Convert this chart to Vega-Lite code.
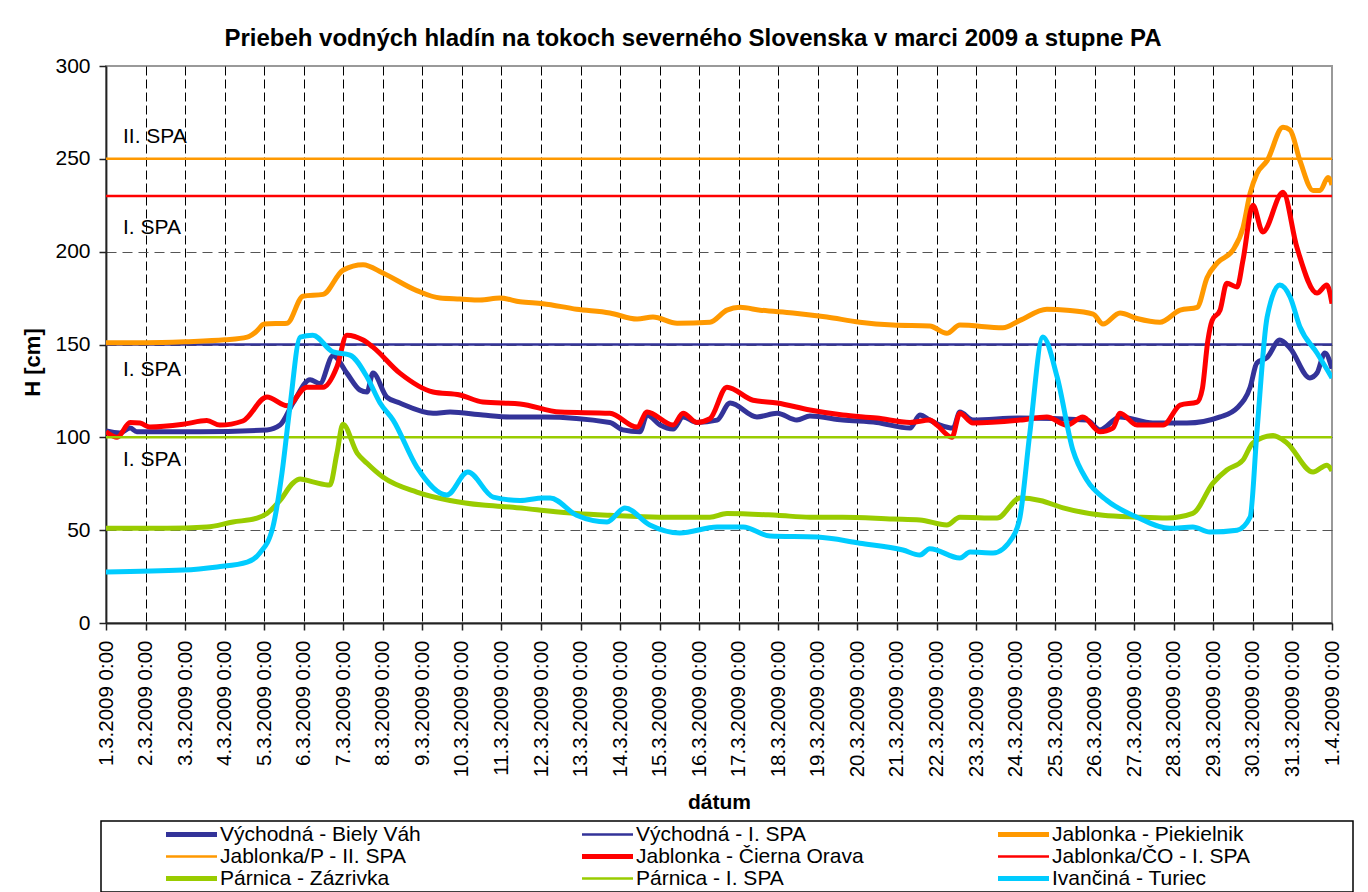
{
  "$schema": "https://vega.github.io/schema/vega-lite/v6.json",
  "width": 1226,
  "height": 557,
  "autosize": {"type": "none"},
  "padding": {"left": 106, "top": 66, "right": 36, "bottom": 269},
  "background": "white",
  "config": {
    "font": "Liberation Sans",
    "view": {"stroke": "#999999", "strokeWidth": 2}
  },
  "title": {
    "text": "Priebeh vodných hladín na tokoch severného Slovenska v marci 2009 a stupne PA",
    "fontSize": 24, "font": "Liberation Sans", "fontWeight": "bold", "color": "#000000",
    "anchor": "middle", "dx": -26, "offset": 4
  },
  "encoding": {
    "x": {
      "field": "den", "type": "quantitative",
      "scale": {"domain": [0, 31], "nice": false, "zero": false},
      "axis": {
        "title": "dátum", "titleFontSize": 21, "titleFontWeight": "bold", "titleColor": "#000",
        "titleY": 185, "titleBaseline": "alphabetic",
        "values": [0,1,2,3,4,5,6,7,8,9,10,11,12,13,14,15,16,17,18,19,20,21,22,23,24,25,26,27,28,29,30,31],
        "labelExpr": "datum.value < 31 ? (datum.value + 1) + '.3.2009 0:00' : '1.4.2009 0:00'",
        "labelAngle": -90, "labelAlign": "right", "labelBaseline": "middle",
        "labelFontSize": 20.5, "labelColor": "#000", "labelPadding": 10, "labelOverlap": false, "labelFlush": false,
        "tickSize": 7, "tickColor": "#222", "tickWidth": 1.5,
        "domainColor": "#222", "domainWidth": 1.8,
        "grid": true, "gridColor": "#000", "gridDash": [9, 4], "gridWidth": 1,
        "gridOpacity": {"condition": {"test": "datum.value == 31 || datum.value == 0", "value": 0}, "value": 1}
      }
    },
    "y": {
      "field": "H", "type": "quantitative",
      "scale": {"domain": [0, 300], "nice": false},
      "axis": {
        "title": "H [cm]", "titleFontSize": 22, "titleFontWeight": "bold", "titleColor": "#000",
        "titleAngle": 270, "titleAlign": "center", "titleBaseline": "middle", "titleX": -74, "titleY": 296,
        "values": [0, 50, 100, 150, 200, 250, 300],
        "labelFontSize": 21, "labelColor": "#000", "labelPadding": 9,
        "tickSize": 7, "tickColor": "#222", "tickWidth": 1.5,
        "domainColor": "#222", "domainWidth": 1.8,
        "grid": true, "gridColor": "#555555", "gridDash": [10, 6], "gridWidth": 1.2,
        "gridOpacity": {"condition": {"test": "datum.value == 300 || datum.value == 0", "value": 0}, "value": 1}
      }
    }
  },
  "layer": [
    {
      "data": {"name": "popisy", "values": [
        {"den": 0.43, "H": 258.3, "txt": "II. SPA"},
        {"den": 0.43, "H": 209.3, "txt": "I. SPA"},
        {"den": 0.43, "H": 133.0, "txt": "I. SPA"},
        {"den": 0.43, "H": 84.7, "txt": "I. SPA"}
      ]},
      "mark": {"type": "text", "align": "left", "baseline": "alphabetic", "fontSize": 21, "color": "#000"},
      "encoding": {"text": {"field": "txt"}}
    },
    {
      "data": {"values": [
        {"rad": "Východná - Biely Váh", "den": 0, "H": 103.4},
        {"rad": "Východná - Biely Váh", "den": 0.35, "H": 102.3},
        {"rad": "Východná - Biely Váh", "den": 0.61, "H": 105},
        {"rad": "Východná - Biely Váh", "den": 0.78, "H": 103},
        {"rad": "Východná - Biely Váh", "den": 2.38, "H": 103},
        {"rad": "Východná - Biely Váh", "den": 4.07, "H": 104},
        {"rad": "Východná - Biely Váh", "den": 4.4, "H": 106.6},
        {"rad": "Východná - Biely Váh", "den": 4.73, "H": 118.5},
        {"rad": "Východná - Biely Váh", "den": 5.16, "H": 131},
        {"rad": "Východná - Biely Váh", "den": 5.41, "H": 129},
        {"rad": "Východná - Biely Váh", "den": 5.74, "H": 144},
        {"rad": "Východná - Biely Váh", "den": 6.09, "H": 134.6},
        {"rad": "Východná - Biely Váh", "den": 6.42, "H": 125.5},
        {"rad": "Východná - Biely Váh", "den": 6.6, "H": 124.4},
        {"rad": "Východná - Biely Váh", "den": 6.75, "H": 134.6},
        {"rad": "Východná - Biely Váh", "den": 7.1, "H": 121.7},
        {"rad": "Východná - Biely Váh", "den": 7.43, "H": 118.5},
        {"rad": "Východná - Biely Váh", "den": 8.27, "H": 113},
        {"rad": "Východná - Biely Váh", "den": 8.7, "H": 113.6},
        {"rad": "Východná - Biely Váh", "den": 9.53, "H": 112},
        {"rad": "Východná - Biely Váh", "den": 10.21, "H": 111},
        {"rad": "Východná - Biely Váh", "den": 11.05, "H": 111},
        {"rad": "Východná - Biely Váh", "den": 12.74, "H": 108},
        {"rad": "Východná - Biely Váh", "den": 13.07, "H": 104},
        {"rad": "Východná - Biely Váh", "den": 13.5, "H": 103},
        {"rad": "Východná - Biely Váh", "den": 13.68, "H": 112},
        {"rad": "Východná - Biely Váh", "den": 14.01, "H": 106.6},
        {"rad": "Východná - Biely Váh", "den": 14.34, "H": 104.5},
        {"rad": "Východná - Biely Váh", "den": 14.59, "H": 111},
        {"rad": "Východná - Biely Váh", "den": 14.94, "H": 108},
        {"rad": "Východná - Biely Váh", "den": 15.45, "H": 109.3},
        {"rad": "Východná - Biely Váh", "den": 15.78, "H": 118.5},
        {"rad": "Východná - Biely Váh", "den": 16.46, "H": 111},
        {"rad": "Východná - Biely Váh", "den": 16.97, "H": 113},
        {"rad": "Východná - Biely Váh", "den": 17.47, "H": 109.3},
        {"rad": "Východná - Biely Váh", "den": 17.8, "H": 111.5},
        {"rad": "Východná - Biely Váh", "den": 18.63, "H": 109.3},
        {"rad": "Východná - Biely Váh", "den": 19.49, "H": 108},
        {"rad": "Východná - Biely Váh", "den": 20.33, "H": 105},
        {"rad": "Východná - Biely Váh", "den": 20.58, "H": 112},
        {"rad": "Východná - Biely Váh", "den": 20.83, "H": 109.3},
        {"rad": "Východná - Biely Váh", "den": 21.09, "H": 106.6},
        {"rad": "Východná - Biely Váh", "den": 21.42, "H": 105},
        {"rad": "Východná - Biely Váh", "den": 21.59, "H": 113.6},
        {"rad": "Východná - Biely Váh", "den": 21.92, "H": 109.3},
        {"rad": "Východná - Biely Váh", "den": 23.11, "H": 110.4},
        {"rad": "Východná - Biely Váh", "den": 24.8, "H": 109.3},
        {"rad": "Východná - Biely Váh", "den": 25.13, "H": 104},
        {"rad": "Východná - Biely Váh", "den": 25.64, "H": 111},
        {"rad": "Východná - Biely Váh", "den": 26.47, "H": 107.7},
        {"rad": "Východná - Biely Váh", "den": 27.33, "H": 107.7},
        {"rad": "Východná - Biely Váh", "den": 28.17, "H": 111},
        {"rad": "Východná - Biely Váh", "den": 28.6, "H": 115.8},
        {"rad": "Východná - Biely Váh", "den": 28.93, "H": 127},
        {"rad": "Východná - Biely Váh", "den": 29.1, "H": 140},
        {"rad": "Východná - Biely Váh", "den": 29.36, "H": 143},
        {"rad": "Východná - Biely Váh", "den": 29.68, "H": 152.4},
        {"rad": "Východná - Biely Váh", "den": 29.94, "H": 148},
        {"rad": "Východná - Biely Váh", "den": 30.44, "H": 132},
        {"rad": "Východná - Biely Váh", "den": 30.62, "H": 134.6},
        {"rad": "Východná - Biely Váh", "den": 30.82, "H": 145.4},
        {"rad": "Východná - Biely Váh", "den": 31, "H": 137},

        {"rad": "Východná - I. SPA", "den": 0, "H": 150},
        {"rad": "Východná - I. SPA", "den": 31, "H": 150},

        {"rad": "Jablonka - Piekielnik", "den": 0, "H": 151},
        {"rad": "Jablonka - Piekielnik", "den": 1, "H": 151},
        {"rad": "Jablonka - Piekielnik", "den": 2, "H": 151.5},
        {"rad": "Jablonka - Piekielnik", "den": 3, "H": 152.5},
        {"rad": "Jablonka - Piekielnik", "den": 3.57, "H": 154},
        {"rad": "Jablonka - Piekielnik", "den": 3.8, "H": 157},
        {"rad": "Jablonka - Piekielnik", "den": 4.0, "H": 161},
        {"rad": "Jablonka - Piekielnik", "den": 4.58, "H": 161.5},
        {"rad": "Jablonka - Piekielnik", "den": 4.98, "H": 176},
        {"rad": "Jablonka - Piekielnik", "den": 5.49, "H": 177},
        {"rad": "Jablonka - Piekielnik", "den": 5.99, "H": 190},
        {"rad": "Jablonka - Piekielnik", "den": 6.5, "H": 193},
        {"rad": "Jablonka - Piekielnik", "den": 7.0, "H": 188.5},
        {"rad": "Jablonka - Piekielnik", "den": 7.86, "H": 179},
        {"rad": "Jablonka - Piekielnik", "den": 8.45, "H": 175},
        {"rad": "Jablonka - Piekielnik", "den": 8.95, "H": 174.5},
        {"rad": "Jablonka - Piekielnik", "den": 9.46, "H": 174},
        {"rad": "Jablonka - Piekielnik", "den": 9.96, "H": 175},
        {"rad": "Jablonka - Piekielnik", "den": 10.47, "H": 173},
        {"rad": "Jablonka - Piekielnik", "den": 11.05, "H": 172},
        {"rad": "Jablonka - Piekielnik", "den": 11.9, "H": 169},
        {"rad": "Jablonka - Piekielnik", "den": 12.74, "H": 167},
        {"rad": "Jablonka - Piekielnik", "den": 13.43, "H": 163.7},
        {"rad": "Jablonka - Piekielnik", "den": 13.83, "H": 164.8},
        {"rad": "Jablonka - Piekielnik", "den": 14.44, "H": 161.5},
        {"rad": "Jablonka - Piekielnik", "den": 15.27, "H": 162},
        {"rad": "Jablonka - Piekielnik", "den": 15.7, "H": 168.5},
        {"rad": "Jablonka - Piekielnik", "den": 16.03, "H": 170},
        {"rad": "Jablonka - Piekielnik", "den": 16.54, "H": 168.5},
        {"rad": "Jablonka - Piekielnik", "den": 17.37, "H": 167},
        {"rad": "Jablonka - Piekielnik", "den": 18.23, "H": 164.8},
        {"rad": "Jablonka - Piekielnik", "den": 19.06, "H": 162},
        {"rad": "Jablonka - Piekielnik", "den": 19.9, "H": 160.5},
        {"rad": "Jablonka - Piekielnik", "den": 20.83, "H": 160},
        {"rad": "Jablonka - Piekielnik", "den": 21.26, "H": 156},
        {"rad": "Jablonka - Piekielnik", "den": 21.59, "H": 160.5},
        {"rad": "Jablonka - Piekielnik", "den": 22.68, "H": 159},
        {"rad": "Jablonka - Piekielnik", "den": 23.11, "H": 163},
        {"rad": "Jablonka - Piekielnik", "den": 23.79, "H": 169},
        {"rad": "Jablonka - Piekielnik", "den": 24.3, "H": 168.5},
        {"rad": "Jablonka - Piekielnik", "den": 24.96, "H": 166.4},
        {"rad": "Jablonka - Piekielnik", "den": 25.21, "H": 161},
        {"rad": "Jablonka - Piekielnik", "den": 25.64, "H": 167},
        {"rad": "Jablonka - Piekielnik", "den": 26.07, "H": 164},
        {"rad": "Jablonka - Piekielnik", "den": 26.65, "H": 162},
        {"rad": "Jablonka - Piekielnik", "den": 27.16, "H": 168.5},
        {"rad": "Jablonka - Piekielnik", "den": 27.59, "H": 170},
        {"rad": "Jablonka - Piekielnik", "den": 27.84, "H": 186},
        {"rad": "Jablonka - Piekielnik", "den": 28.1, "H": 194},
        {"rad": "Jablonka - Piekielnik", "den": 28.5, "H": 201},
        {"rad": "Jablonka - Piekielnik", "den": 28.75, "H": 213},
        {"rad": "Jablonka - Piekielnik", "den": 28.93, "H": 231.5},
        {"rad": "Jablonka - Piekielnik", "den": 29.1, "H": 242},
        {"rad": "Jablonka - Piekielnik", "den": 29.36, "H": 249},
        {"rad": "Jablonka - Piekielnik", "den": 29.76, "H": 267},
        {"rad": "Jablonka - Piekielnik", "den": 29.94, "H": 265.5},
        {"rad": "Jablonka - Piekielnik", "den": 30.19, "H": 249},
        {"rad": "Jablonka - Piekielnik", "den": 30.52, "H": 233},
        {"rad": "Jablonka - Piekielnik", "den": 30.7, "H": 233},
        {"rad": "Jablonka - Piekielnik", "den": 30.9, "H": 240},
        {"rad": "Jablonka - Piekielnik", "den": 31, "H": 236},

        {"rad": "Jablonka/P - II. SPA", "den": 0, "H": 250},
        {"rad": "Jablonka/P - II. SPA", "den": 31, "H": 250},

        {"rad": "Jablonka - Čierna Orava", "den": 0, "H": 103},
        {"rad": "Jablonka - Čierna Orava", "den": 0.28, "H": 100},
        {"rad": "Jablonka - Čierna Orava", "den": 0.61, "H": 108},
        {"rad": "Jablonka - Čierna Orava", "den": 0.86, "H": 107.7},
        {"rad": "Jablonka - Čierna Orava", "den": 1.11, "H": 105.5},
        {"rad": "Jablonka - Čierna Orava", "den": 1.95, "H": 107},
        {"rad": "Jablonka - Čierna Orava", "den": 2.55, "H": 109},
        {"rad": "Jablonka - Čierna Orava", "den": 2.88, "H": 106.6},
        {"rad": "Jablonka - Čierna Orava", "den": 3.46, "H": 108.8},
        {"rad": "Jablonka - Čierna Orava", "den": 4.07, "H": 121.7},
        {"rad": "Jablonka - Čierna Orava", "den": 4.58, "H": 117},
        {"rad": "Jablonka - Čierna Orava", "den": 5.08, "H": 127},
        {"rad": "Jablonka - Čierna Orava", "den": 5.49, "H": 127},
        {"rad": "Jablonka - Čierna Orava", "den": 5.84, "H": 138},
        {"rad": "Jablonka - Čierna Orava", "den": 6.09, "H": 155},
        {"rad": "Jablonka - Čierna Orava", "den": 6.5, "H": 152.4},
        {"rad": "Jablonka - Čierna Orava", "den": 6.75, "H": 148.6},
        {"rad": "Jablonka - Čierna Orava", "den": 7.43, "H": 134.6},
        {"rad": "Jablonka - Čierna Orava", "den": 8.27, "H": 124.4},
        {"rad": "Jablonka - Čierna Orava", "den": 8.95, "H": 122.8},
        {"rad": "Jablonka - Čierna Orava", "den": 9.53, "H": 119},
        {"rad": "Jablonka - Čierna Orava", "den": 10.47, "H": 118},
        {"rad": "Jablonka - Čierna Orava", "den": 11.48, "H": 113.6},
        {"rad": "Jablonka - Čierna Orava", "den": 12.74, "H": 113},
        {"rad": "Jablonka - Čierna Orava", "den": 13.43, "H": 105.5},
        {"rad": "Jablonka - Čierna Orava", "den": 13.68, "H": 113.6},
        {"rad": "Jablonka - Čierna Orava", "den": 14.34, "H": 106.6},
        {"rad": "Jablonka - Čierna Orava", "den": 14.59, "H": 113},
        {"rad": "Jablonka - Čierna Orava", "den": 14.94, "H": 108},
        {"rad": "Jablonka - Čierna Orava", "den": 15.27, "H": 110},
        {"rad": "Jablonka - Čierna Orava", "den": 15.7, "H": 127},
        {"rad": "Jablonka - Čierna Orava", "den": 16.36, "H": 120},
        {"rad": "Jablonka - Čierna Orava", "den": 16.97, "H": 118.5},
        {"rad": "Jablonka - Čierna Orava", "den": 17.8, "H": 114.7},
        {"rad": "Jablonka - Čierna Orava", "den": 18.63, "H": 112},
        {"rad": "Jablonka - Čierna Orava", "den": 19.49, "H": 110.4},
        {"rad": "Jablonka - Čierna Orava", "den": 20.33, "H": 108},
        {"rad": "Jablonka - Čierna Orava", "den": 20.83, "H": 109.3},
        {"rad": "Jablonka - Čierna Orava", "den": 21.01, "H": 106.6},
        {"rad": "Jablonka - Čierna Orava", "den": 21.39, "H": 100},
        {"rad": "Jablonka - Čierna Orava", "den": 21.59, "H": 113},
        {"rad": "Jablonka - Čierna Orava", "den": 21.92, "H": 107.7},
        {"rad": "Jablonka - Čierna Orava", "den": 23.11, "H": 109.3},
        {"rad": "Jablonka - Čierna Orava", "den": 23.79, "H": 111},
        {"rad": "Jablonka - Čierna Orava", "den": 24.3, "H": 106.6},
        {"rad": "Jablonka - Čierna Orava", "den": 24.7, "H": 111},
        {"rad": "Jablonka - Čierna Orava", "den": 25.13, "H": 103},
        {"rad": "Jablonka - Čierna Orava", "den": 25.46, "H": 105},
        {"rad": "Jablonka - Čierna Orava", "den": 25.64, "H": 113},
        {"rad": "Jablonka - Čierna Orava", "den": 26.07, "H": 106.6},
        {"rad": "Jablonka - Čierna Orava", "den": 26.73, "H": 106.6},
        {"rad": "Jablonka - Čierna Orava", "den": 27.16, "H": 117.4},
        {"rad": "Jablonka - Čierna Orava", "den": 27.59, "H": 119},
        {"rad": "Jablonka - Čierna Orava", "den": 27.72, "H": 126},
        {"rad": "Jablonka - Čierna Orava", "den": 27.86, "H": 152},
        {"rad": "Jablonka - Čierna Orava", "den": 27.97, "H": 163},
        {"rad": "Jablonka - Čierna Orava", "den": 28.17, "H": 168.5},
        {"rad": "Jablonka - Čierna Orava", "den": 28.34, "H": 183},
        {"rad": "Jablonka - Čierna Orava", "den": 28.6, "H": 181},
        {"rad": "Jablonka - Čierna Orava", "den": 28.75, "H": 195.5},
        {"rad": "Jablonka - Čierna Orava", "den": 29.0, "H": 225},
        {"rad": "Jablonka - Čierna Orava", "den": 29.25, "H": 210.6},
        {"rad": "Jablonka - Čierna Orava", "den": 29.76, "H": 232},
        {"rad": "Jablonka - Čierna Orava", "den": 30.11, "H": 202.5},
        {"rad": "Jablonka - Čierna Orava", "den": 30.62, "H": 177.7},
        {"rad": "Jablonka - Čierna Orava", "den": 30.87, "H": 182},
        {"rad": "Jablonka - Čierna Orava", "den": 31, "H": 172},

        {"rad": "Jablonka/ČO - I. SPA", "den": 0, "H": 230},
        {"rad": "Jablonka/ČO - I. SPA", "den": 31, "H": 230},

        {"rad": "Párnica - Zázrivka", "den": 0, "H": 51},
        {"rad": "Párnica - Zázrivka", "den": 1.54, "H": 51},
        {"rad": "Párnica - Zázrivka", "den": 2.55, "H": 51.7},
        {"rad": "Párnica - Zázrivka", "den": 3.21, "H": 54.4},
        {"rad": "Párnica - Zázrivka", "den": 3.82, "H": 56.5},
        {"rad": "Párnica - Zázrivka", "den": 4.07, "H": 59},
        {"rad": "Párnica - Zázrivka", "den": 4.4, "H": 66},
        {"rad": "Párnica - Zázrivka", "den": 4.73, "H": 75.4},
        {"rad": "Párnica - Zázrivka", "den": 4.91, "H": 77.5},
        {"rad": "Párnica - Zázrivka", "den": 5.23, "H": 76},
        {"rad": "Párnica - Zázrivka", "den": 5.66, "H": 74.3},
        {"rad": "Párnica - Zázrivka", "den": 5.84, "H": 91.5},
        {"rad": "Párnica - Zázrivka", "den": 5.99, "H": 107},
        {"rad": "Párnica - Zázrivka", "den": 6.35, "H": 91.5},
        {"rad": "Párnica - Zázrivka", "den": 6.6, "H": 86},
        {"rad": "Párnica - Zázrivka", "den": 7.0, "H": 78.6},
        {"rad": "Párnica - Zázrivka", "den": 7.86, "H": 70.5},
        {"rad": "Párnica - Zázrivka", "den": 8.7, "H": 66},
        {"rad": "Párnica - Zázrivka", "den": 9.53, "H": 63.5},
        {"rad": "Párnica - Zázrivka", "den": 10.21, "H": 62.5},
        {"rad": "Párnica - Zázrivka", "den": 10.9, "H": 61},
        {"rad": "Párnica - Zázrivka", "den": 11.9, "H": 59},
        {"rad": "Párnica - Zázrivka", "den": 12.74, "H": 58},
        {"rad": "Párnica - Zázrivka", "den": 14.01, "H": 57},
        {"rad": "Párnica - Zázrivka", "den": 15.27, "H": 57},
        {"rad": "Párnica - Zázrivka", "den": 15.7, "H": 59},
        {"rad": "Párnica - Zázrivka", "den": 16.97, "H": 58},
        {"rad": "Párnica - Zázrivka", "den": 17.8, "H": 57},
        {"rad": "Párnica - Zázrivka", "den": 18.63, "H": 57},
        {"rad": "Párnica - Zázrivka", "den": 19.9, "H": 56},
        {"rad": "Párnica - Zázrivka", "den": 20.58, "H": 55.5},
        {"rad": "Párnica - Zázrivka", "den": 21.26, "H": 52.8},
        {"rad": "Párnica - Zázrivka", "den": 21.59, "H": 57},
        {"rad": "Párnica - Zázrivka", "den": 22.53, "H": 56.5},
        {"rad": "Párnica - Zázrivka", "den": 23.11, "H": 67.3},
        {"rad": "Párnica - Zázrivka", "den": 23.62, "H": 66},
        {"rad": "Párnica - Zázrivka", "den": 24.2, "H": 62},
        {"rad": "Párnica - Zázrivka", "den": 25.21, "H": 58},
        {"rad": "Párnica - Zázrivka", "den": 26.07, "H": 57},
        {"rad": "Párnica - Zázrivka", "den": 26.83, "H": 56.5},
        {"rad": "Párnica - Zázrivka", "den": 27.48, "H": 59},
        {"rad": "Párnica - Zázrivka", "den": 27.99, "H": 75.4},
        {"rad": "Párnica - Zázrivka", "den": 28.34, "H": 82.4},
        {"rad": "Párnica - Zázrivka", "den": 28.75, "H": 87.8},
        {"rad": "Párnica - Zázrivka", "den": 29.0, "H": 97},
        {"rad": "Párnica - Zázrivka", "den": 29.51, "H": 101},
        {"rad": "Párnica - Zázrivka", "den": 29.86, "H": 97},
        {"rad": "Párnica - Zázrivka", "den": 30.52, "H": 81.3},
        {"rad": "Párnica - Zázrivka", "den": 30.87, "H": 85},
        {"rad": "Párnica - Zázrivka", "den": 31, "H": 82},

        {"rad": "Párnica - I. SPA", "den": 0, "H": 100},
        {"rad": "Párnica - I. SPA", "den": 31, "H": 100},

        {"rad": "Ivančiná - Turiec", "den": 0, "H": 27.5},
        {"rad": "Ivančiná - Turiec", "den": 1.95, "H": 28.5},
        {"rad": "Ivančiná - Turiec", "den": 2.81, "H": 30.2},
        {"rad": "Ivančiná - Turiec", "den": 3.57, "H": 32.8},
        {"rad": "Ivančiná - Turiec", "den": 3.89, "H": 37.7},
        {"rad": "Ivančiná - Turiec", "den": 4.22, "H": 51.7},
        {"rad": "Ivančiná - Turiec", "den": 4.45, "H": 80.8},
        {"rad": "Ivančiná - Turiec", "den": 4.65, "H": 116.3},
        {"rad": "Ivančiná - Turiec", "den": 4.91, "H": 154},
        {"rad": "Ivančiná - Turiec", "den": 5.23, "H": 155},
        {"rad": "Ivančiná - Turiec", "den": 5.74, "H": 146},
        {"rad": "Ivančiná - Turiec", "den": 6.17, "H": 144.3},
        {"rad": "Ivančiná - Turiec", "den": 6.6, "H": 132.5},
        {"rad": "Ivančiná - Turiec", "den": 6.93, "H": 118.5},
        {"rad": "Ivančiná - Turiec", "den": 7.26, "H": 109.3},
        {"rad": "Ivančiná - Turiec", "den": 7.86, "H": 84},
        {"rad": "Ivančiná - Turiec", "den": 8.62, "H": 69},
        {"rad": "Ivančiná - Turiec", "den": 9.15, "H": 81.3},
        {"rad": "Ivančiná - Turiec", "den": 9.79, "H": 67.8},
        {"rad": "Ivančiná - Turiec", "den": 10.47, "H": 66},
        {"rad": "Ivančiná - Turiec", "den": 11.05, "H": 67.3},
        {"rad": "Ivančiná - Turiec", "den": 11.23, "H": 67.3},
        {"rad": "Ivančiná - Turiec", "den": 11.9, "H": 58},
        {"rad": "Ivančiná - Turiec", "den": 12.67, "H": 54.4},
        {"rad": "Ivančiná - Turiec", "den": 13.12, "H": 62},
        {"rad": "Ivančiná - Turiec", "den": 13.75, "H": 52.8},
        {"rad": "Ivančiná - Turiec", "den": 14.51, "H": 48.5},
        {"rad": "Ivančiná - Turiec", "den": 15.45, "H": 51.7},
        {"rad": "Ivančiná - Turiec", "den": 16.11, "H": 51.7},
        {"rad": "Ivančiná - Turiec", "den": 16.79, "H": 46.8},
        {"rad": "Ivančiná - Turiec", "den": 17.98, "H": 46.3},
        {"rad": "Ivančiná - Turiec", "den": 19.06, "H": 43},
        {"rad": "Ivančiná - Turiec", "den": 20.15, "H": 39.3},
        {"rad": "Ivančiná - Turiec", "den": 20.58, "H": 36.6},
        {"rad": "Ivančiná - Turiec", "den": 20.83, "H": 40},
        {"rad": "Ivančiná - Turiec", "den": 21.59, "H": 35},
        {"rad": "Ivančiná - Turiec", "den": 21.85, "H": 38.2},
        {"rad": "Ivančiná - Turiec", "den": 22.43, "H": 37.7},
        {"rad": "Ivančiná - Turiec", "den": 22.93, "H": 46.3},
        {"rad": "Ivančiná - Turiec", "den": 23.11, "H": 57},
        {"rad": "Ivančiná - Turiec", "den": 23.36, "H": 102.3},
        {"rad": "Ivančiná - Turiec", "den": 23.69, "H": 154},
        {"rad": "Ivančiná - Turiec", "den": 24.05, "H": 132.5},
        {"rad": "Ivančiná - Turiec", "den": 24.45, "H": 93},
        {"rad": "Ivančiná - Turiec", "den": 24.8, "H": 77},
        {"rad": "Ivančiná - Turiec", "den": 25.31, "H": 66},
        {"rad": "Ivančiná - Turiec", "den": 26.07, "H": 57},
        {"rad": "Ivančiná - Turiec", "den": 26.9, "H": 51},
        {"rad": "Ivančiná - Turiec", "den": 27.48, "H": 51.7},
        {"rad": "Ivančiná - Turiec", "den": 27.91, "H": 49},
        {"rad": "Ivančiná - Turiec", "den": 28.6, "H": 50},
        {"rad": "Ivančiná - Turiec", "den": 28.93, "H": 57},
        {"rad": "Ivančiná - Turiec", "den": 29.1, "H": 102.3},
        {"rad": "Ivančiná - Turiec", "den": 29.36, "H": 164.8},
        {"rad": "Ivančiná - Turiec", "den": 29.68, "H": 182},
        {"rad": "Ivančiná - Turiec", "den": 29.94, "H": 175.6},
        {"rad": "Ivančiná - Turiec", "den": 30.19, "H": 159.4},
        {"rad": "Ivančiná - Turiec", "den": 30.62, "H": 145.4},
        {"rad": "Ivančiná - Turiec", "den": 31, "H": 132}
      ]},
      "mark": {"type": "line", "interpolate": "monotone", "strokeJoin": "round", "clip": true},
      "encoding": {
        "color": {
          "field": "rad", "type": "nominal",
          "scale": {
            "domain": ["Východná - Biely Váh", "Jablonka/P - II. SPA", "Párnica - Zázrivka", "Východná - I. SPA", "Jablonka - Čierna Orava", "Párnica - I. SPA", "Jablonka - Piekielnik", "Jablonka/ČO - I. SPA", "Ivančiná - Turiec"],
            "range": ["#333399", "#FF9900", "#99CC00", "#333399", "#FF0000", "#99CC00", "#FF9900", "#FF0000", "#00CCFF"]
          },
          "legend": {
            "title": null, "orient": "none", "legendX": -5, "legendY": 755,
            "columns": 3, "gridAlign": "all", "columnPadding": 2, "rowPadding": 0,
            "symbolType": "stroke", "symbolSize": 2601, "symbolStrokeWidth": 5, "symbolOffset": 77,
            "labelOffset": 18, "labelFontSize": 21, "labelColor": "#000", "labelLimit": 700,
            "clipHeight": 21, "padding": 3,
            "strokeColor": "#000", "fillColor": "#fff",
            "labelExpr": "datum.label + (test(/Piekielnik|ČO|Turiec/, datum.label) ? '                 ' : '           ') + '\u200b'",
            "encode": {
              "symbols": {"update": {"strokeWidth": {"signal": "test(/SPA/, datum.value) ? 2.5 : 5"}}},
              "legend": {"update": {"strokeWidth": {"value": 1.5}}}
            }
          }
        },
        "strokeWidth": {"condition": {"test": "test(/SPA/, datum.rad)", "value": 2.5}, "value": 5}
      }
    }
  ]
}
